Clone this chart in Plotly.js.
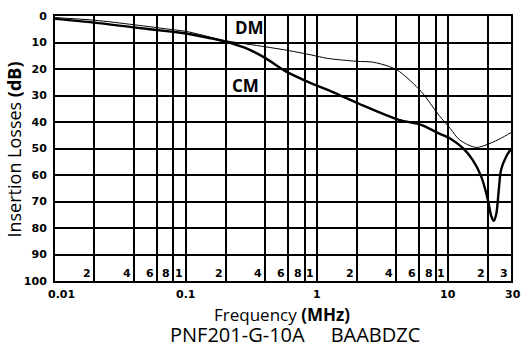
<!DOCTYPE html>
<html>
<head>
<meta charset="utf-8">
<script src="https://cdn.plot.ly/plotly-3.0.1.min.js"></script>
<style>
  html, body { margin: 0; padding: 0; background: #fff; }
  #chart { width: 528px; height: 351px; }
</style>
</head>
<body>
<div id="chart"></div>
<script>
// Differential-mode insertion loss (MHz, dB)
const dmFreq = [0.01, 0.02, 0.04, 0.08, 0.1, 0.2, 0.4, 0.6, 0.9, 1.2, 2.0, 2.64, 3.56, 4.24, 6.2, 8.45, 10.3, 12.2, 16.3, 20.9, 25, 30];
const dmLoss = [0.6, 1.6, 3.3, 5.2, 5.8, 9.3, 11.6, 13.0, 14.7, 16.0, 17.1, 17.4, 19.1, 21.0, 28.5, 37.4, 42.4, 46.8, 49.6, 48.0, 46.2, 44.0];

// Common-mode insertion loss (MHz, dB)
const cmFreq = [0.01, 0.02, 0.04, 0.08, 0.1, 0.15, 0.2, 0.3, 0.4, 0.57, 0.9, 1.3, 2.1, 4.2, 6.2, 8.45, 10.3, 12.9, 15.3, 17.8, 20.0, 21.2, 22.2, 23.2, 24.2, 25.2, 27.6, 30];
const cmLoss = [1.1, 2.5, 4.3, 6.0, 6.6, 8.3, 9.7, 12.6, 15.8, 20.8, 25.4, 28.6, 33.2, 39.2, 41.1, 44.3, 46.2, 49.9, 54.3, 60.6, 69.4, 75.5, 77.3, 74.5, 65.7, 58.0, 53.0, 50.2];

// Grid positions and the small digits printed beside them
const gridFreq = [0.02, 0.04, 0.06, 0.08, 0.1, 0.2, 0.4, 0.6, 0.8, 1, 2, 4, 6, 8, 10, 20, 30];
const gridDigit = ['2', '4', '6', '8', '1', '2', '4', '6', '8', '1', '2', '4', '6', '8', '1', '2', '3'];

// Frequency axis labels below the plot
const freqTickVals = [0.01, 0.1, 1, 10, 30];
const freqTickText = ['0.01', '0.1', '1', '10', '30'];

const lossTicks = [0, 10, 20, 30, 40, 50, 60, 70, 80, 90, 100];

const tickFont = { family: 'DejaVu Sans', size: 11, color: '#000', weight: 'bold' };

const traces = [
  { x: dmFreq, y: dmLoss, type: 'scatter', mode: 'lines', name: 'DM',
    line: { color: '#000', width: 1, shape: 'spline', smoothing: 0.8 } },
  { x: cmFreq, y: cmLoss, type: 'scatter', mode: 'lines', name: 'CM',
    line: { color: '#000', width: 2.4, shape: 'spline', smoothing: 0.8 } }
];

const annotations = [];

gridFreq.forEach((f, i) => {
  annotations.push({
    x: Math.log10(f), y: 97.3, xref: 'x', yref: 'y',
    text: gridDigit[i], showarrow: false,
    xanchor: 'right', yanchor: 'middle', xshift: -1,
    font: tickFont
  });
});

freqTickVals.forEach((f, i) => {
  annotations.push({
    x: Math.log10(f), y: -0.02, xref: 'x', yref: 'paper',
    text: freqTickText[i], showarrow: false,
    xanchor: 'center', yanchor: 'top',
    xshift: i === 0 ? 6 : (i === freqTickVals.length - 1 ? 2 : 0),
    font: tickFont
  });
});

annotations.push(
  { x: Math.log10(0.305), y: 4.3, xref: 'x', yref: 'y', text: '<b>DM</b>', showarrow: false,
    font: { family: 'Open Sans', size: 17, color: '#000' } },
  { x: Math.log10(0.285), y: 26.4, xref: 'x', yref: 'y', text: '<b>CM</b>', showarrow: false,
    font: { family: 'Open Sans', size: 17, color: '#000' } },
  { x: -0.09, y: 0.496, xref: 'paper', yref: 'paper', text: 'Insertion Losses <b>(dB)</b>',
    textangle: -90, showarrow: false, xanchor: 'center', yanchor: 'middle',
    font: { family: 'Open Sans', size: 18, color: '#000' } },
  { x: 0.497, y: -0.128, xref: 'paper', yref: 'paper', text: 'Frequency <b>(MHz)</b>',
    showarrow: false, xanchor: 'center', yanchor: 'middle',
    font: { family: 'Open Sans', size: 17, color: '#000' } },
  { x: 0.526, y: -0.2, xref: 'paper', yref: 'paper', text: 'PNF201-G-10A&nbsp;&nbsp;&nbsp;&nbsp;&nbsp;BAABDZC',
    showarrow: false, xanchor: 'center', yanchor: 'middle',
    font: { family: 'Open Sans', size: 20, color: '#000' } }
);

const layout = {
  width: 528, height: 351,
  margin: { l: 55, r: 17, t: 16, b: 70 },
  paper_bgcolor: '#fff', plot_bgcolor: '#fff',
  showlegend: false,
  xaxis: {
    type: 'log', range: [Math.log10(0.01), Math.log10(30)],
    tickvals: gridFreq, showticklabels: false, ticks: '',
    showgrid: true, gridcolor: '#000', gridwidth: 2,
    showline: true, linecolor: '#000', linewidth: 2, mirror: true,
    zeroline: false
  },
  yaxis: {
    range: [100, 0], tickvals: lossTicks, ticks: '',
    tickfont: tickFont, ticklabelstandoff: 4,
    showgrid: true, gridcolor: '#000', gridwidth: 2,
    showline: true, linecolor: '#000', linewidth: 2, mirror: true,
    zeroline: false
  },
  annotations: annotations
};

Plotly.newPlot('chart', traces, layout, { displayModeBar: false, staticPlot: true });
</script>
</body>
</html>
